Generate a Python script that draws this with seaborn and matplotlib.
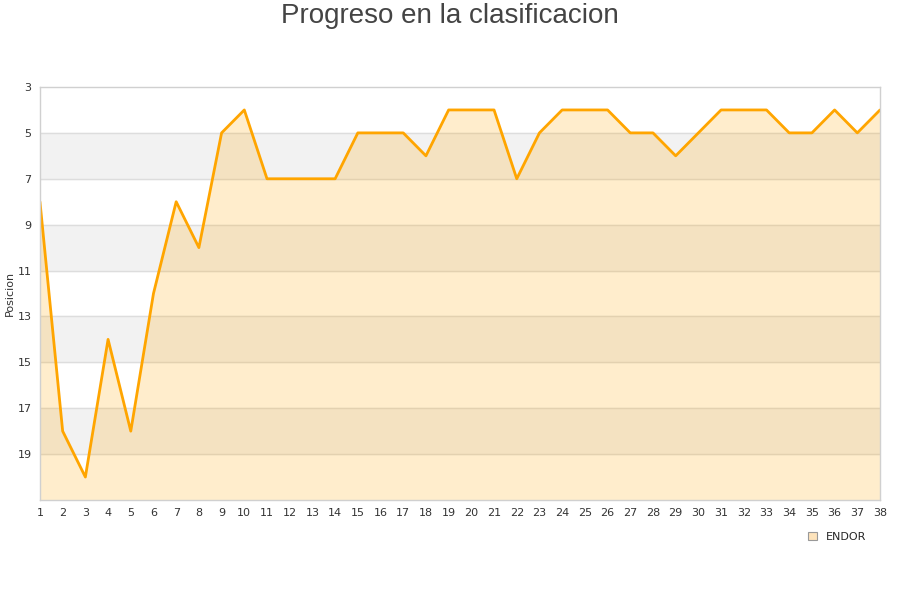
import numpy as np
import pandas as pd
import matplotlib
matplotlib.use("Agg")
from matplotlib import pyplot as plt
import seaborn as sns

jornadas = list(range(1, 39))
posiciones = [8, 18, 20, 14, 18, 12, 8, 10, 5, 4, 7, 7, 7, 7, 5, 5, 5, 6, 4, 4,
              4, 7, 5, 4, 4, 4, 5, 5, 6, 5, 4, 4, 4, 5, 5, 4, 5, 4]
equipo = "ENDOR"
y_ticks = [3, 5, 7, 9, 11, 13, 15, 17, 19]

df = pd.DataFrame({"Jornada": jornadas, "Posicion": posiciones})

sns.set_style("white")
plt.rcParams['font.family'] = ['DejaVu Sans']

fig = plt.figure(figsize=(9, 6), dpi=100)
ax = fig.add_axes([0.0444, 0.1667, 0.9334, 0.6883])

# alternating bands
for lo in range(5, 21, 4):
    ax.axhspan(lo, lo + 2, color="#f2f2f2", zorder=0)
for yv in range(5, 21, 2):
    ax.axhline(yv, color="#dddddd", lw=1, zorder=0.5)

ax.fill_between(df.Jornada, df.Posicion, 21, color="orange", alpha=0.2, lw=0, zorder=1)
sns.lineplot(data=df, x="Jornada", y="Posicion", color="orange", lw=2, ax=ax,
             zorder=2, label=equipo)

ax.set_xlim(1, 38)
ax.set_ylim(21, 3)
ax.set_xticks(jornadas)
ax.set_yticks(y_ticks)
ax.tick_params(axis="both", labelsize=8, colors="#333333", length=0, pad=6)
ax.set_xlabel("")
ax.set_ylabel("Posicion", fontsize=8, color="#333333", labelpad=2)
for s in ax.spines.values():
    s.set_color("#d0d0d0")
    s.set_linewidth(1)

ax.get_legend().remove()
handle = plt.Rectangle((0, 0), 1, 1, facecolor="#fde3bb", edgecolor="#999999", lw=0.8)
fig.legend([handle], [equipo], loc="center", bbox_to_anchor=(0.930, 0.105),
           frameon=False, fontsize=8, handlelength=0.8, handleheight=0.8,
           handletextpad=0.8)

fig.suptitle("Progreso en la clasificacion", fontsize=20, color="#444444", y=0.995, x=0.5,
             family=["Liberation Sans", "DejaVu Sans"])

fig.savefig("out.png", dpi=100)
